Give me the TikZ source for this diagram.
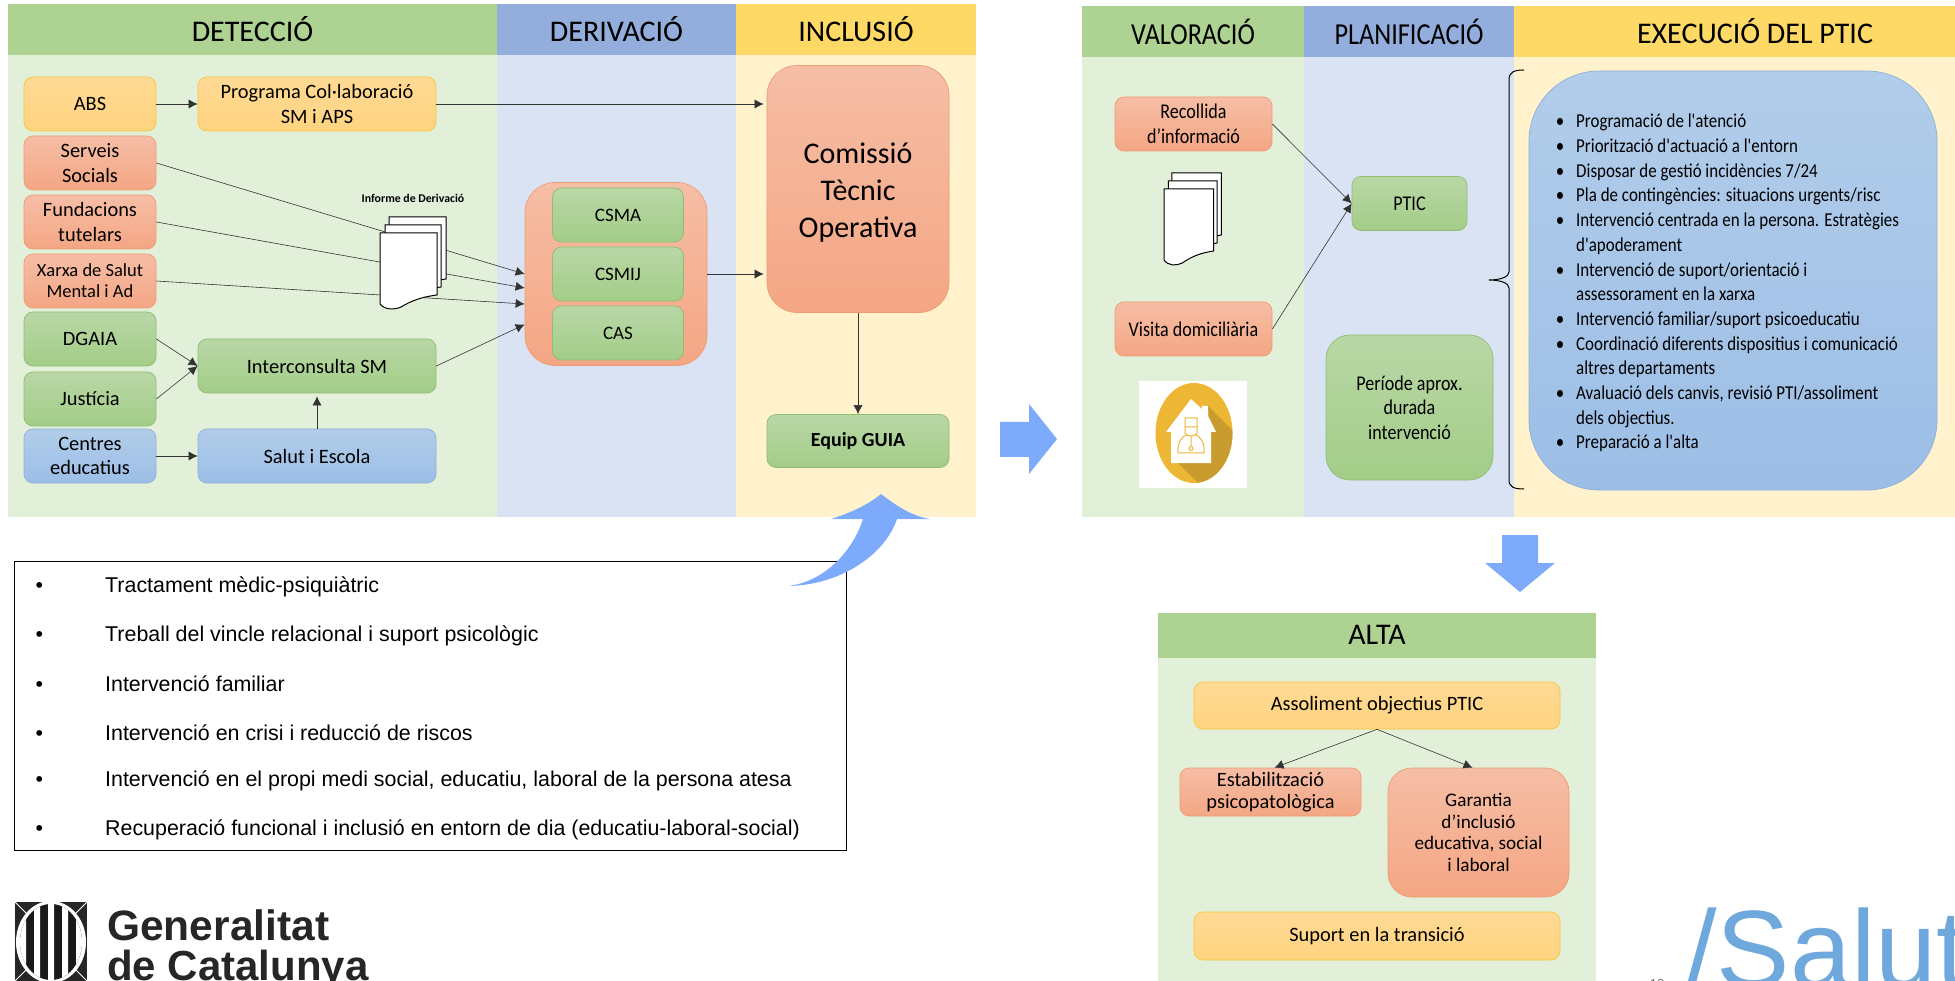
\documentclass[tikz,border=0pt]{standalone}
\usepackage{fontspec}
\setmainfont{Carlito}
\newfontfamily\narrowf[FakeStretch=0.86]{Carlito}
\newfontfamily\helv{Liberation Sans}
\usetikzlibrary{arrows.meta}

\definecolor{headg}{HTML}{AED292}
\definecolor{headb}{HTML}{93AEDC}
\definecolor{heady}{HTML}{FFD966}
\definecolor{pang}{HTML}{E2F0D9}
\definecolor{panb}{HTML}{DAE3F3}
\definecolor{pany}{HTML}{FFF2CC}
\definecolor{bigblue}{HTML}{7DAAFB}
\definecolor{gold}{HTML}{EDB735}
\definecolor{goldd}{HTML}{C99C30}
\definecolor{salutb}{HTML}{6FA8DC}
\definecolor{orangetop}{HTML}{F6BEA6}
\definecolor{orangebot}{HTML}{F4A684}
\definecolor{orangeln}{HTML}{EE9B72}
\definecolor{greentop}{HTML}{B9D7A6}
\definecolor{greenbot}{HTML}{A3CD88}
\definecolor{greenln}{HTML}{90BC74}
\definecolor{bluetop}{HTML}{B2CDEA}
\definecolor{bluebot}{HTML}{9CBEE6}
\definecolor{blueln}{HTML}{8FB0D8}
\definecolor{yellowtop}{HTML}{FFDA95}
\definecolor{yellowbot}{HTML}{FFD480}
\definecolor{yellowln}{HTML}{F6C63C}

\tikzset{
band/.style={rectangle, inner sep=0, outer sep=0, minimum height=51pt},
title/.style={font=\fontsize{30}{34}\selectfont},
titleR/.style={font=\narrowf\fontsize{30.5}{34}\selectfont},
box/.style={rectangle, rounded corners=9pt, inner sep=0, align=center, minimum width=132pt, minimum height=54pt, line width=0.7pt, font=\fontsize{20.4}{24.7}\selectfont},
wide/.style={box, minimum width=238pt},
orangebox/.style={draw=orangeln, top color=orangetop, bottom color=orangebot},
yellowbox/.style={box, draw=yellowln, top color=yellowtop, bottom color=yellowbot},
greenbox/.style={box, draw=greenln, top color=greentop, bottom color=greenbot},
bluebox/.style={box, draw=blueln, top color=bluetop, bottom color=bluebot},
conn/.style={-{Latex[length=9pt,width=9pt]}, line width=0.6pt, black!80},
sheet/.style={fill=white, draw=black, line width=1pt},
bigarrow/.style={fill=bigblue},
listitem/.style={anchor=west, inner sep=0, font=\helv\fontsize{21.4}{25}\selectfont},
docstack/.pic={
\path[sheet] (9,-16) -- (66,-16) -- (66,46) .. controls (50,48) and (40,52) .. (30,58) .. controls (22,60) and (14,60) .. (9,54) -- cycle;
\path[sheet] (5,-8) -- (61,-8) -- (61,54) .. controls (45,56) and (35,60) .. (25,66) .. controls (18,68) and (10,68) .. (5,62) -- cycle;
\path[sheet] (0,0) -- (57,0) -- (57,62) .. controls (41,64) and (31,68) .. (21,74) .. controls (14,77) and (5,77) .. (0,71) -- cycle;
}
}

\begin{document}
\begin{tikzpicture}[x=1pt,y=-1pt]
\useasboundingbox (0,0) rectangle (1955,981);

% first block
\node [band, fill=pang, minimum width=489pt, minimum height=462pt] (pdet) at (252.5,286){};
\node [band, fill=panb, minimum width=239pt, minimum height=462pt] (pder) at (616.5,286){};
\node [band, fill=pany, minimum width=240pt, minimum height=462pt] (pinc) at (856,286){};
\node [band, title, fill=headg, minimum width=489pt] (hdet) at (252.5,29.5){DETECCIÓ};
\node [band, title, fill=headb, minimum width=239pt] (hder) at (616.5,29.5){DERIVACIÓ};
\node [band, title, fill=heady, minimum width=240pt] (hinc) at (856,29.5){INCLUSIÓ};

\node [yellowbox] (abs) at (90,104){ABS};
\node [yellowbox, wide] (programa) at (317,104){Programa Col·laboració\\SM i APS};
\node [box, orangebox] (serveis) at (90,163){Serveis\\Socials};
\node [box, orangebox] (fundacions) at (90,222){Fundacions\\tutelars};
\node [box, orangebox, font=\fontsize{18.5}{21}\selectfont] (xarxa) at (90,281){Xarxa de Salut\\Mental i Ad};
\node [greenbox] (dgaia) at (90,339){DGAIA};
\node [greenbox] (justicia) at (90,399){Justícia};
\node [bluebox] (centres) at (90,456){Centres\\educatius};
\node [greenbox, wide] (interconsulta) at (317,366){Interconsulta SM};
\node [bluebox, wide] (salut) at (317,456){Salut i Escola};

\node [box, orangebox, rounded corners=30pt, minimum width=182pt, minimum height=183pt] (grup) at (616,274){};
\node [greenbox, minimum width=131pt, font=\fontsize{19}{22}\selectfont] (csma) at (618,215){CSMA};
\node [greenbox, minimum width=131pt, font=\fontsize{19}{22}\selectfont] (csmij) at (618,274){CSMIJ};
\node [greenbox, minimum width=131pt, font=\fontsize{19}{22}\selectfont] (cas) at (618,333){CAS};
\node [box, orangebox, rounded corners=30pt, minimum width=182pt, minimum height=247pt] (comissio) at (858,189){};
\node [align=center, inner sep=0, font=\fontsize{30}{37}\selectfont] (comissiotxt) at (858,193){Comissió\\Tècnic\\Operativa};
\node [greenbox, minimum width=182pt, minimum height=53pt, font=\bfseries\fontsize{20}{24}\selectfont] (equip) at (858,441){Equip GUIA};

\draw[conn] (abs.east) -- (programa.west);
\draw[conn, shorten >=3pt] (programa.east) -- ([yshift=85pt]comissio.west);
\draw[conn] (serveis.east) -- (grup.west);
\draw[conn] (fundacions.east) -- ([yshift=-14pt]grup.west);
\draw[conn] (xarxa.east) -- ([yshift=-30pt]grup.west);
\draw[conn] (dgaia.east) -- (interconsulta.west);
\draw[conn] (justicia.east) -- (interconsulta.west);
\draw[conn] (centres.east) -- (salut.west);
\draw[conn, shorten >=3pt] (salut.north) -- (interconsulta.south);
\draw[conn] (interconsulta.east) -- ([yshift=-50.5pt]grup.west);
\draw[conn, shorten >=3pt] (grup.east) -- ([yshift=-85pt]comissio.west);
\draw[conn] (comissio.south) -- (equip.north);

\path (380,233) pic {docstack};
\node [font=\bfseries\fontsize{11.8}{13}\selectfont] (informe) at (413,198){Informe de Derivació};

% arrows between the blocks
\path[bigarrow] (1000,422) -- (1029,422) -- (1029,404) -- (1057,439) -- (1029,474) -- (1029,457) -- (1000,457) -- cycle;
\path[bigarrow] (1502,535) -- (1538,535) -- (1538,563) -- (1555,563) -- (1520,592) -- (1485,563) -- (1502,563) -- cycle;

% list
\node [draw=black, line width=1pt, inner sep=0, minimum width=832pt, minimum height=289pt] (llista) at (430,705.5){};
\node [listitem] (lista) at (105,587){\llap{\textbullet\hspace{62pt}}Tractament mèdic-psiquiàtric};
\node [listitem] (listb) at (105,636){\llap{\textbullet\hspace{62pt}}Treball del vincle relacional i suport psicològic};
\node [listitem] (listc) at (105,684){\llap{\textbullet\hspace{62pt}}Intervenció familiar};
\node [listitem] (listd) at (105,733){\llap{\textbullet\hspace{62pt}}Intervenció en crisi i reducció de riscos};
\node [listitem] (liste) at (105,781){\llap{\textbullet\hspace{62pt}}Intervenció en el propi medi social, educatiu, laboral de la persona atesa};
\node [listitem] (listf) at (105,830){\llap{\textbullet\hspace{62pt}}Recuperació funcional i inclusió en entorn de dia (educatiu-laboral-social)};

\path[bigarrow] (881,494) .. controls (898,507) and (912,516) .. (930,519) -- (897,519) .. controls (885,555) and (840,585) .. (789,586) .. controls (830,580) and (855,545) .. (863,519) -- (831,519) .. controls (850,513) and (868,505) .. (881,494) -- cycle;

% second block
\node [band, fill=pang, minimum width=222pt, minimum height=460pt] (pval) at (1193,287){};
\node [band, fill=panb, minimum width=210pt, minimum height=460pt] (ppla) at (1409,287){};
\node [band, fill=pany, minimum width=441pt, minimum height=460pt] (pexe) at (1734.5,287){};
\node [band, titleR, fill=headg, minimum width=222pt] (hval) at (1193,31.5){VALORACIÓ};
\node [band, titleR, fill=headb, minimum width=210pt] (hpla) at (1409,31.5){PLANIFICACIÓ};
\node [band, fill=heady, minimum width=441pt] (hexe) at (1734.5,31.5){};
\node [title, inner sep=0] (exetxt) at (1755,31.5){EXECUCIÓ DEL PTIC};

\node [box, orangebox, minimum width=157pt, font=\narrowf\fontsize{21}{24.7}\selectfont] (recollida) at (1193.5,124){Recollida\\d’informació};
\node [box, orangebox, minimum width=157pt, font=\narrowf\fontsize{21}{24.7}\selectfont] (visita) at (1193.5,329){Visita domiciliària};
\node [greenbox, minimum width=115pt, font=\narrowf\fontsize{21}{24.7}\selectfont] (ptic) at (1409.5,203.5){PTIC};
\node [greenbox, rounded corners=24pt, minimum width=167pt, minimum height=145pt, font=\narrowf\fontsize{21}{24.7}\selectfont] (periode) at (1409.5,407.5){Període aprox.\\durada\\intervenció};
\draw[conn] (recollida.east) -- (ptic.west);
\draw[conn] (visita.east) -- (ptic.west);
\path (1164,189) pic[xscale=0.87] {docstack};

% icon
\fill[white] (1139,381) rectangle (1247,488);
\fill[gold] (1194,433) ellipse [x radius=38.5, y radius=50];
\begin{scope}
\clip (1194,433) ellipse [x radius=38.5, y radius=50];
\fill[goldd] (1208,406) -- (1240,438) -- (1240,490) -- (1205,490) -- (1178,463) -- (1211,463) -- cycle;
\end{scope}
\fill[white] (1191,399) -- (1202,409) -- (1202,406) -- (1208,406) -- (1208,416) -- (1216,432) -- (1211,432) -- (1211,463) -- (1171,463) -- (1171,432) -- (1166,432) -- cycle;
\draw[gold, line width=1pt] (1185,418) rectangle (1197,427) (1185,427) -- (1185,433) .. controls (1187,437) and (1195,437) .. (1197,433) -- (1197,427) (1178,453) .. controls (1177,442) and (1182,437) .. (1186,435) (1196,435) .. controls (1200,437) and (1205,442) .. (1204,453) -- (1178,453) (1191,436) -- (1191,446) (1191,448.5) circle (2);

\draw[line width=1pt] (1524,70) .. controls (1514,70) and (1509,72) .. (1509,80) -- (1509,272) .. controls (1509,277) and (1500,280) .. (1489,280) .. controls (1500,280) and (1509,283) .. (1509,288) -- (1509,480) .. controls (1509,487) and (1514,489) .. (1524,489);

\node [bluebox, rounded corners=70pt, minimum width=408pt, minimum height=419pt] (execucio) at (1733,280.5){};
\node [anchor=north west, align=left, inner sep=0, font=\narrowf\fontsize{19.7}{24.7}\selectfont] (accions) at (1576,114){\llap{\textbullet\hspace{12pt}}Programació de l'atenció\\
\llap{\textbullet\hspace{12pt}}Priorització d'actuació a l'entorn\\
\llap{\textbullet\hspace{12pt}}Disposar de gestió incidències 7/24\\
\llap{\textbullet\hspace{12pt}}Pla de contingències: situacions urgents/risc\\
\llap{\textbullet\hspace{12pt}}Intervenció centrada en la persona. Estratègies\\
d'apoderament\\
\llap{\textbullet\hspace{12pt}}Intervenció de suport/orientació i\\
assessorament en la xarxa\\
\llap{\textbullet\hspace{12pt}}Intervenció familiar/suport psicoeducatiu\\
\llap{\textbullet\hspace{12pt}}Coordinació diferents dispositius i comunicació\\
altres departaments\\
\llap{\textbullet\hspace{12pt}}Avaluació dels canvis, revisió PTI/assoliment\\
dels objectius.\\
\llap{\textbullet\hspace{12pt}}Preparació a l'alta};

% last block
\node [band, fill=pang, minimum width=438pt, minimum height=324pt] (palt) at (1377,820){};
\node [band, title, fill=headg, minimum width=438pt, minimum height=45pt] (halt) at (1377,635){ALTA};
\node [yellowbox, minimum width=366pt, minimum height=47pt, font=\fontsize{20.4}{21.7}\selectfont] (assoliment) at (1377,705.5){Assoliment objectius PTIC};
\node [box, orangebox, minimum width=181pt, minimum height=48pt, font=\fontsize{20.4}{21.7}\selectfont] (estabilitzacio) at (1270.5,792){Estabilització\\psicopatològica};
\node [box, orangebox, rounded corners=24pt, minimum width=181pt, minimum height=129pt, font=\fontsize{19.2}{21.7}\selectfont] (garantia) at (1478.5,832.5){Garantia\\d’inclusió\\educativa, social\\i laboral};
\node [yellowbox, minimum width=366pt, minimum height=48pt, font=\fontsize{20.4}{21.7}\selectfont] (suport) at (1377,936){Suport en la transició};
\draw[conn] (assoliment.south) -- ([xshift=4pt]estabilitzacio.north);
\draw[conn] (assoliment.south) -- ([xshift=-6pt]garantia.north);

% logos
\node [anchor=base west, inner sep=0, text=salutb, font=\helv\fontsize{110}{114}\selectfont] (salutlogo) at (1686,987){/Salut};
\node [anchor=base, inner sep=0, text=black!55, font=\helv\fontsize{13}{15}\selectfont] (pagina) at (1657,988){10};
\node [anchor=base west, inner sep=0, text=black!85, font=\helv\bfseries\fontsize{42.5}{46}\selectfont] (generalitat) at (107,940){Generalitat};
\node [anchor=base west, inner sep=0, text=black!85, font=\helv\bfseries\fontsize{42}{46}\selectfont] (catalunya) at (107,980){de Catalunya};

\fill[black!85] (15,902) rectangle (87,981);
\fill[white] (51,942) ellipse [x radius=35, y radius=41];
\begin{scope}
\clip (15,902) rectangle (87,981);
\draw[white, line width=1pt] (15,902) -- (30,917) (87,902) -- (72,917) (15,981) -- (30,966) (87,981) -- (72,966);
\fill[black!90] (51,942) ellipse [x radius=31, y radius=38];
\clip (51,942) ellipse [x radius=31, y radius=38];
\fill[white] (20,900) rectangle (26,985) (34,900) rectangle (40,985) (48,900) rectangle (54,985) (62,900) rectangle (68,985) (76,900) rectangle (82,985);
\end{scope}
\end{tikzpicture}
\end{document}
